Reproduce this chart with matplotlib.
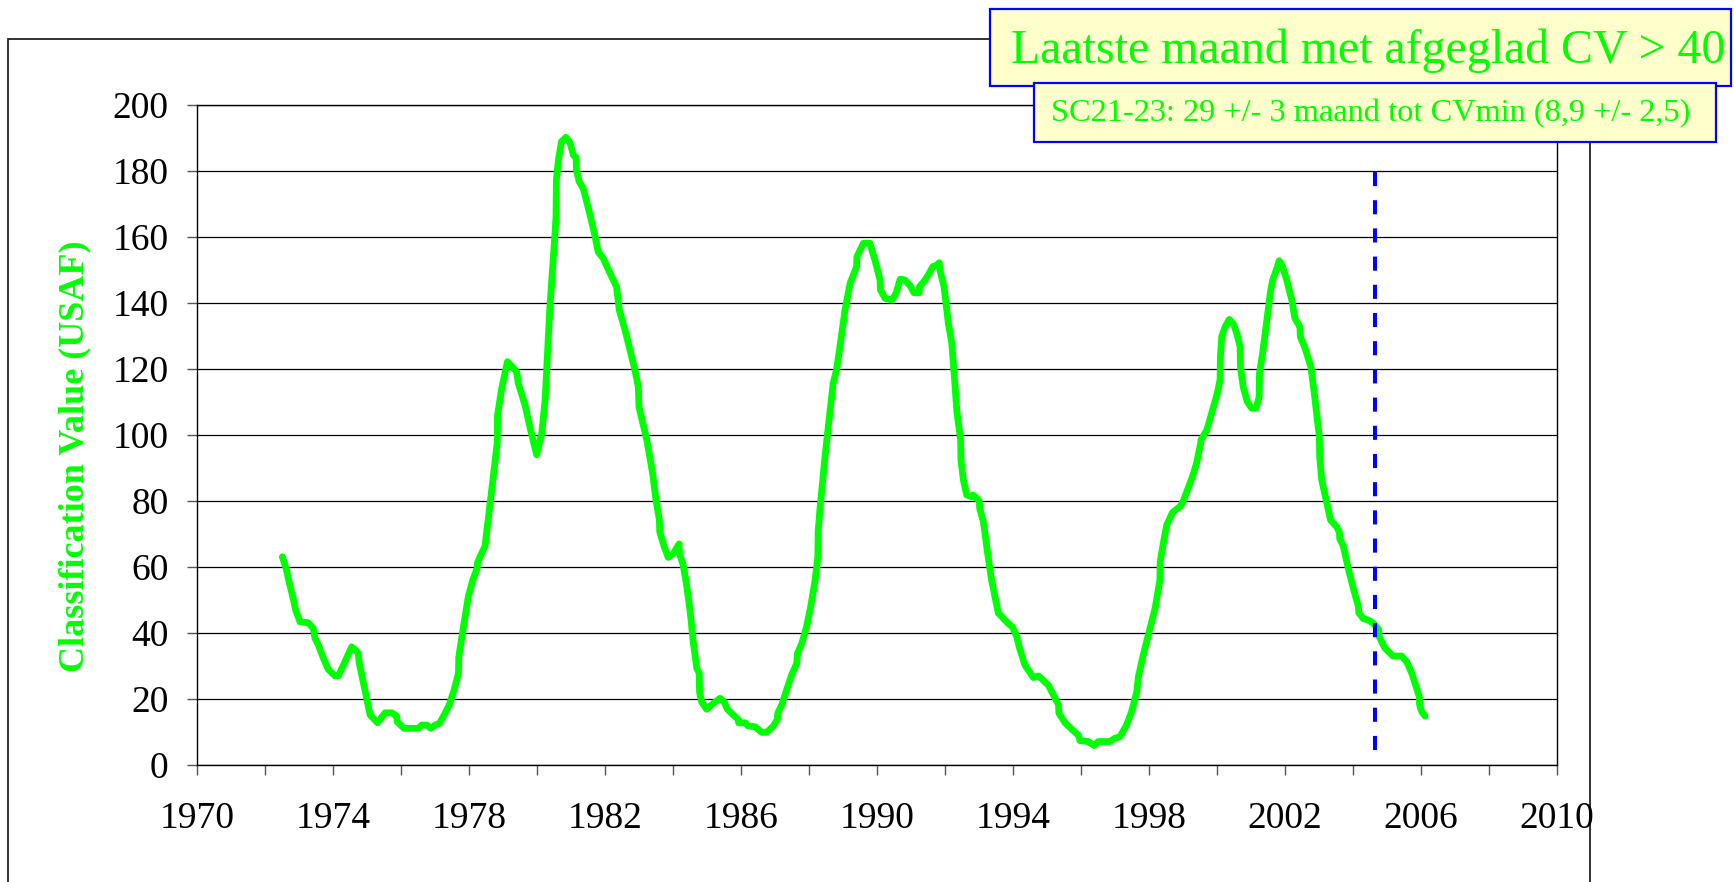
import matplotlib
matplotlib.use('Agg')
import matplotlib.pyplot as plt
from matplotlib.patches import Rectangle

plt.rcParams['font.family'] = ['Liberation Serif', 'DejaVu Serif']

# smoothed classification value (USAF)
years = [1972.51, 1972.62, 1972.72, 1972.83, 1972.90, 1973.03, 1973.27, 1973.42, 1973.47, 1973.57,
         1973.72, 1973.86, 1974.06, 1974.16, 1974.55, 1974.74, 1974.77, 1974.94, 1975.09, 1975.31,
         1975.53, 1975.73, 1975.87, 1975.89, 1976.09, 1976.51, 1976.61, 1976.76, 1976.88, 1977.00,
         1977.13, 1977.24, 1977.42, 1977.56, 1977.69, 1977.70, 1977.83, 1977.98, 1978.11, 1978.24,
         1978.25, 1978.39, 1978.47, 1978.62, 1978.76, 1978.83, 1978.84, 1978.96, 1979.13, 1979.40,
         1979.45, 1979.65, 1979.79, 1979.99, 1980.14, 1980.24, 1980.38, 1980.53, 1980.56, 1980.57,
         1980.63, 1980.72, 1980.85, 1980.97, 1981.07, 1981.15, 1981.16, 1981.24, 1981.36, 1981.56,
         1981.71, 1981.80, 1981.95, 1982.15, 1982.34, 1982.42, 1982.59, 1982.88, 1982.98, 1983.00,
         1983.23, 1983.40, 1983.50, 1983.60, 1983.61, 1983.74, 1983.86, 1984.01, 1984.18, 1984.19,
         1984.30, 1984.40, 1984.50, 1984.60, 1984.70, 1984.77, 1984.78, 1984.84, 1984.99, 1985.19,
         1985.38, 1985.50, 1985.60, 1985.77, 1985.92, 1985.93, 1986.12, 1986.22, 1986.41, 1986.61,
         1986.76, 1986.95, 1987.07, 1987.08, 1987.20, 1987.34, 1987.49, 1987.64, 1987.66, 1987.79,
         1987.93, 1988.05, 1988.18, 1988.26, 1988.27, 1988.32, 1988.47, 1988.60, 1988.71, 1988.81,
         1988.90, 1989.06, 1989.21, 1989.40, 1989.41, 1989.60, 1989.79, 1989.94, 1990.09, 1990.10,
         1990.24, 1990.43, 1990.56, 1990.68, 1990.82, 1990.99, 1991.09, 1991.24, 1991.25, 1991.38,
         1991.51, 1991.64, 1991.76, 1991.83, 1991.85, 1991.97, 1992.10, 1992.20, 1992.29, 1992.35,
         1992.46, 1992.47, 1992.54, 1992.64, 1992.78, 1992.83, 1993.01, 1993.02, 1993.13, 1993.24,
         1993.37, 1993.47, 1993.57, 1993.62, 1993.81, 1993.99, 1994.11, 1994.19, 1994.35, 1994.60,
         1994.75, 1995.04, 1995.19, 1995.34, 1995.35, 1995.53, 1995.73, 1995.92, 1995.97, 1996.21,
         1996.39, 1996.51, 1996.85, 1997.00, 1997.15, 1997.34, 1997.49, 1997.64, 1997.69, 1997.83,
         1997.98, 1998.18, 1998.32, 1998.33, 1998.42, 1998.52, 1998.69, 1998.91, 1999.00, 1999.11,
         1999.28, 1999.40, 1999.52, 1999.53, 1999.70, 1999.87, 2000.01, 2000.09, 2000.10, 2000.14,
         2000.24, 2000.36, 2000.50, 2000.58, 2000.68, 2000.69, 2000.77, 2000.89, 2001.02, 2001.15,
         2001.24, 2001.25, 2001.34, 2001.44, 2001.58, 2001.64, 2001.76, 2001.83, 2001.93, 2002.05,
         2002.20, 2002.29, 2002.39, 2002.44, 2002.45, 2002.59, 2002.76, 2002.85, 2002.93, 2003.01,
         2003.02, 2003.08, 2003.21, 2003.34, 2003.52, 2003.60, 2003.61, 2003.71, 2003.86, 2004.01,
         2004.16, 2004.17, 2004.30, 2004.45, 2004.60, 2004.75, 2004.77, 2004.94, 2005.18, 2005.43,
         2005.58, 2005.73, 2005.95, 2005.96, 2006.02, 2006.12]
cv = [63.1, 59.6, 55.0, 50.5, 47.0, 43.4, 43.1, 41.4, 38.4, 36.4,
      32.3, 29.0, 27.0, 27.0, 35.8, 34.0, 31.0, 22.7, 15.2, 12.8,
      15.8, 15.8, 14.8, 13.1, 11.1, 11.1, 12.1, 12.1, 11.1, 12.1,
      12.6, 14.6, 18.2, 22.7, 27.8, 32.8, 41.4, 51.0, 56.0, 59.6,
      61.3, 64.6, 66.2, 79.3, 91.4, 97.5, 106.0, 114.0, 122.2, 119.2,
      115.7, 109.0, 102.5, 94.0, 100.5, 110.8, 138.9, 161.1, 166.2, 177.3,
      183.3, 188.9, 190.2, 188.6, 184.8, 184.1, 180.3, 176.8, 174.7, 166.7,
      160.1, 155.5, 153.5, 149.0, 144.9, 137.9, 131.8, 119.7, 114.6, 108.5,
      98.5, 88.4, 80.3, 74.2, 70.7, 66.2, 62.9, 64.1, 67.0, 64.1,
      60.6, 54.5, 47.0, 36.9, 29.3, 27.8, 22.2, 19.2, 16.9, 18.7,
      20.2, 19.2, 16.9, 15.2, 13.8, 12.8, 12.8, 11.8, 11.6, 9.9,
      9.9, 11.8, 13.8, 15.7, 18.2, 22.7, 27.3, 30.8, 33.8, 36.9,
      41.9, 48.0, 56.0, 63.1, 70.7, 77.3, 93.4, 105.5, 115.7, 119.7,
      126.0, 137.9, 146.0, 151.0, 154.0, 158.1, 158.1, 153.0, 147.0, 144.0,
      141.4, 140.9, 142.9, 147.2, 147.0, 145.0, 143.1, 143.1, 145.0, 146.5,
      148.5, 151.0, 151.5, 152.2, 150.0, 145.0, 133.8, 127.8, 115.7, 107.0,
      98.5, 92.4, 86.4, 81.8, 81.3, 81.8, 80.0, 77.8, 73.7, 65.2,
      56.0, 51.0, 46.0, 45.5, 43.4, 41.7, 38.9, 35.5, 30.3, 26.5,
      27.0, 24.2, 21.2, 18.2, 15.7, 12.8, 10.8, 9.1, 7.4, 7.1,
      5.9, 7.1, 7.1, 8.1, 8.6, 12.1, 16.2, 22.2, 26.8, 33.3,
      39.4, 47.5, 56.0, 61.6, 67.2, 72.7, 76.5, 78.3, 79.8, 82.8,
      87.4, 91.5, 97.5, 98.5, 101.5, 107.6, 112.6, 116.7, 123.7, 129.8,
      132.8, 135.0, 133.3, 130.8, 126.8, 120.7, 114.6, 110.1, 108.1, 108.1,
      111.6, 118.7, 124.7, 132.8, 143.9, 147.0, 150.5, 152.8, 151.0, 147.0,
      140.9, 135.4, 133.6, 132.8, 129.8, 126.3, 120.7, 113.6, 106.6, 99.5,
      93.4, 86.4, 80.3, 74.2, 72.2, 70.5, 68.5, 66.5, 59.6, 53.5,
      48.0, 46.2, 44.4, 43.9, 42.9, 41.1, 38.9, 35.4, 33.0, 33.0,
      31.3, 27.8, 20.7, 18.2, 16.2, 14.8]

# last month with smoothed CV > 40
last_month = 2004.66
x_ticks = list(range(1970, 2011, 4))
y_ticks = list(range(0, 201, 20))

title = 'Laatste maand met afgeglad CV > 40'
subtitle = 'SC21-23: 29 +/- 3 maand tot CVmin (8,9 +/- 2,5)'

fig = plt.figure(figsize=(17.34, 8.82), dpi=100)
ax = fig.add_axes([197/1734, 117/882, 1360/1734, 660/882])

# outer chart frame (runs off the bottom of the picture)
fig.add_artist(Rectangle((8/1734, -0.1), 1582/1734, 1.1 - 39/882, transform=fig.transFigure,
                         fill=False, edgecolor='#222222', linewidth=1.3, zorder=0))

ax.plot(years, cv, color='#00ff00', linewidth=4.9, solid_capstyle='round',
        solid_joinstyle='round', zorder=3)
ax.plot([last_month, last_month], [4.5, 180], color='#0000ff', linewidth=2.9,
        dashes=(3.5, 3.5), zorder=4)

ax.set_xlim(1970, 2010)
ax.set_ylim(0, 200)
ax.set_xticks(x_ticks)
ax.set_xticks(range(1970, 2011, 2), minor=True)
ax.set_yticks(y_ticks)
ax.grid(axis='y', color='black', linewidth=0.9)
ax.set_axisbelow(True)
for s in ax.spines.values():
    s.set_color('black')
    s.set_linewidth(1.0)
ax.tick_params(which='both', direction='out', length=7.5, width=1.0, color='#555555')
ax.tick_params(axis='y', labelsize=27, pad=13)
ax.tick_params(axis='x', labelsize=27, pad=19)

ax.set_ylabel('Classification Value (USAF)', color='#00ff00', fontsize=26,
              fontweight='bold', va='center')
ax.yaxis.set_label_coords(-0.090, 0.468)

# title boxes
fig.add_artist(Rectangle((990/1734, 1 - 86/882), 741/1734, 77/882, transform=fig.transFigure,
                         facecolor='#ffffcc', edgecolor='#0000ff', linewidth=1.6, zorder=5))
fig.text(1368/1734, 1 - 63/882, title, color='#00ff00', fontsize=34.5,
         ha='center', va='baseline', zorder=6)
fig.add_artist(Rectangle((1034/1734, 1 - 142/882), 682/1734, 59/882, transform=fig.transFigure,
                         facecolor='#ffffcc', edgecolor='#0000ff', linewidth=1.6, zorder=7))
fig.text(1371/1734, 1 - 121/882, subtitle, color='#00ff00', fontsize=23.3,
         ha='center', va='baseline', zorder=8)

fig.savefig('out.png', dpi=100)
